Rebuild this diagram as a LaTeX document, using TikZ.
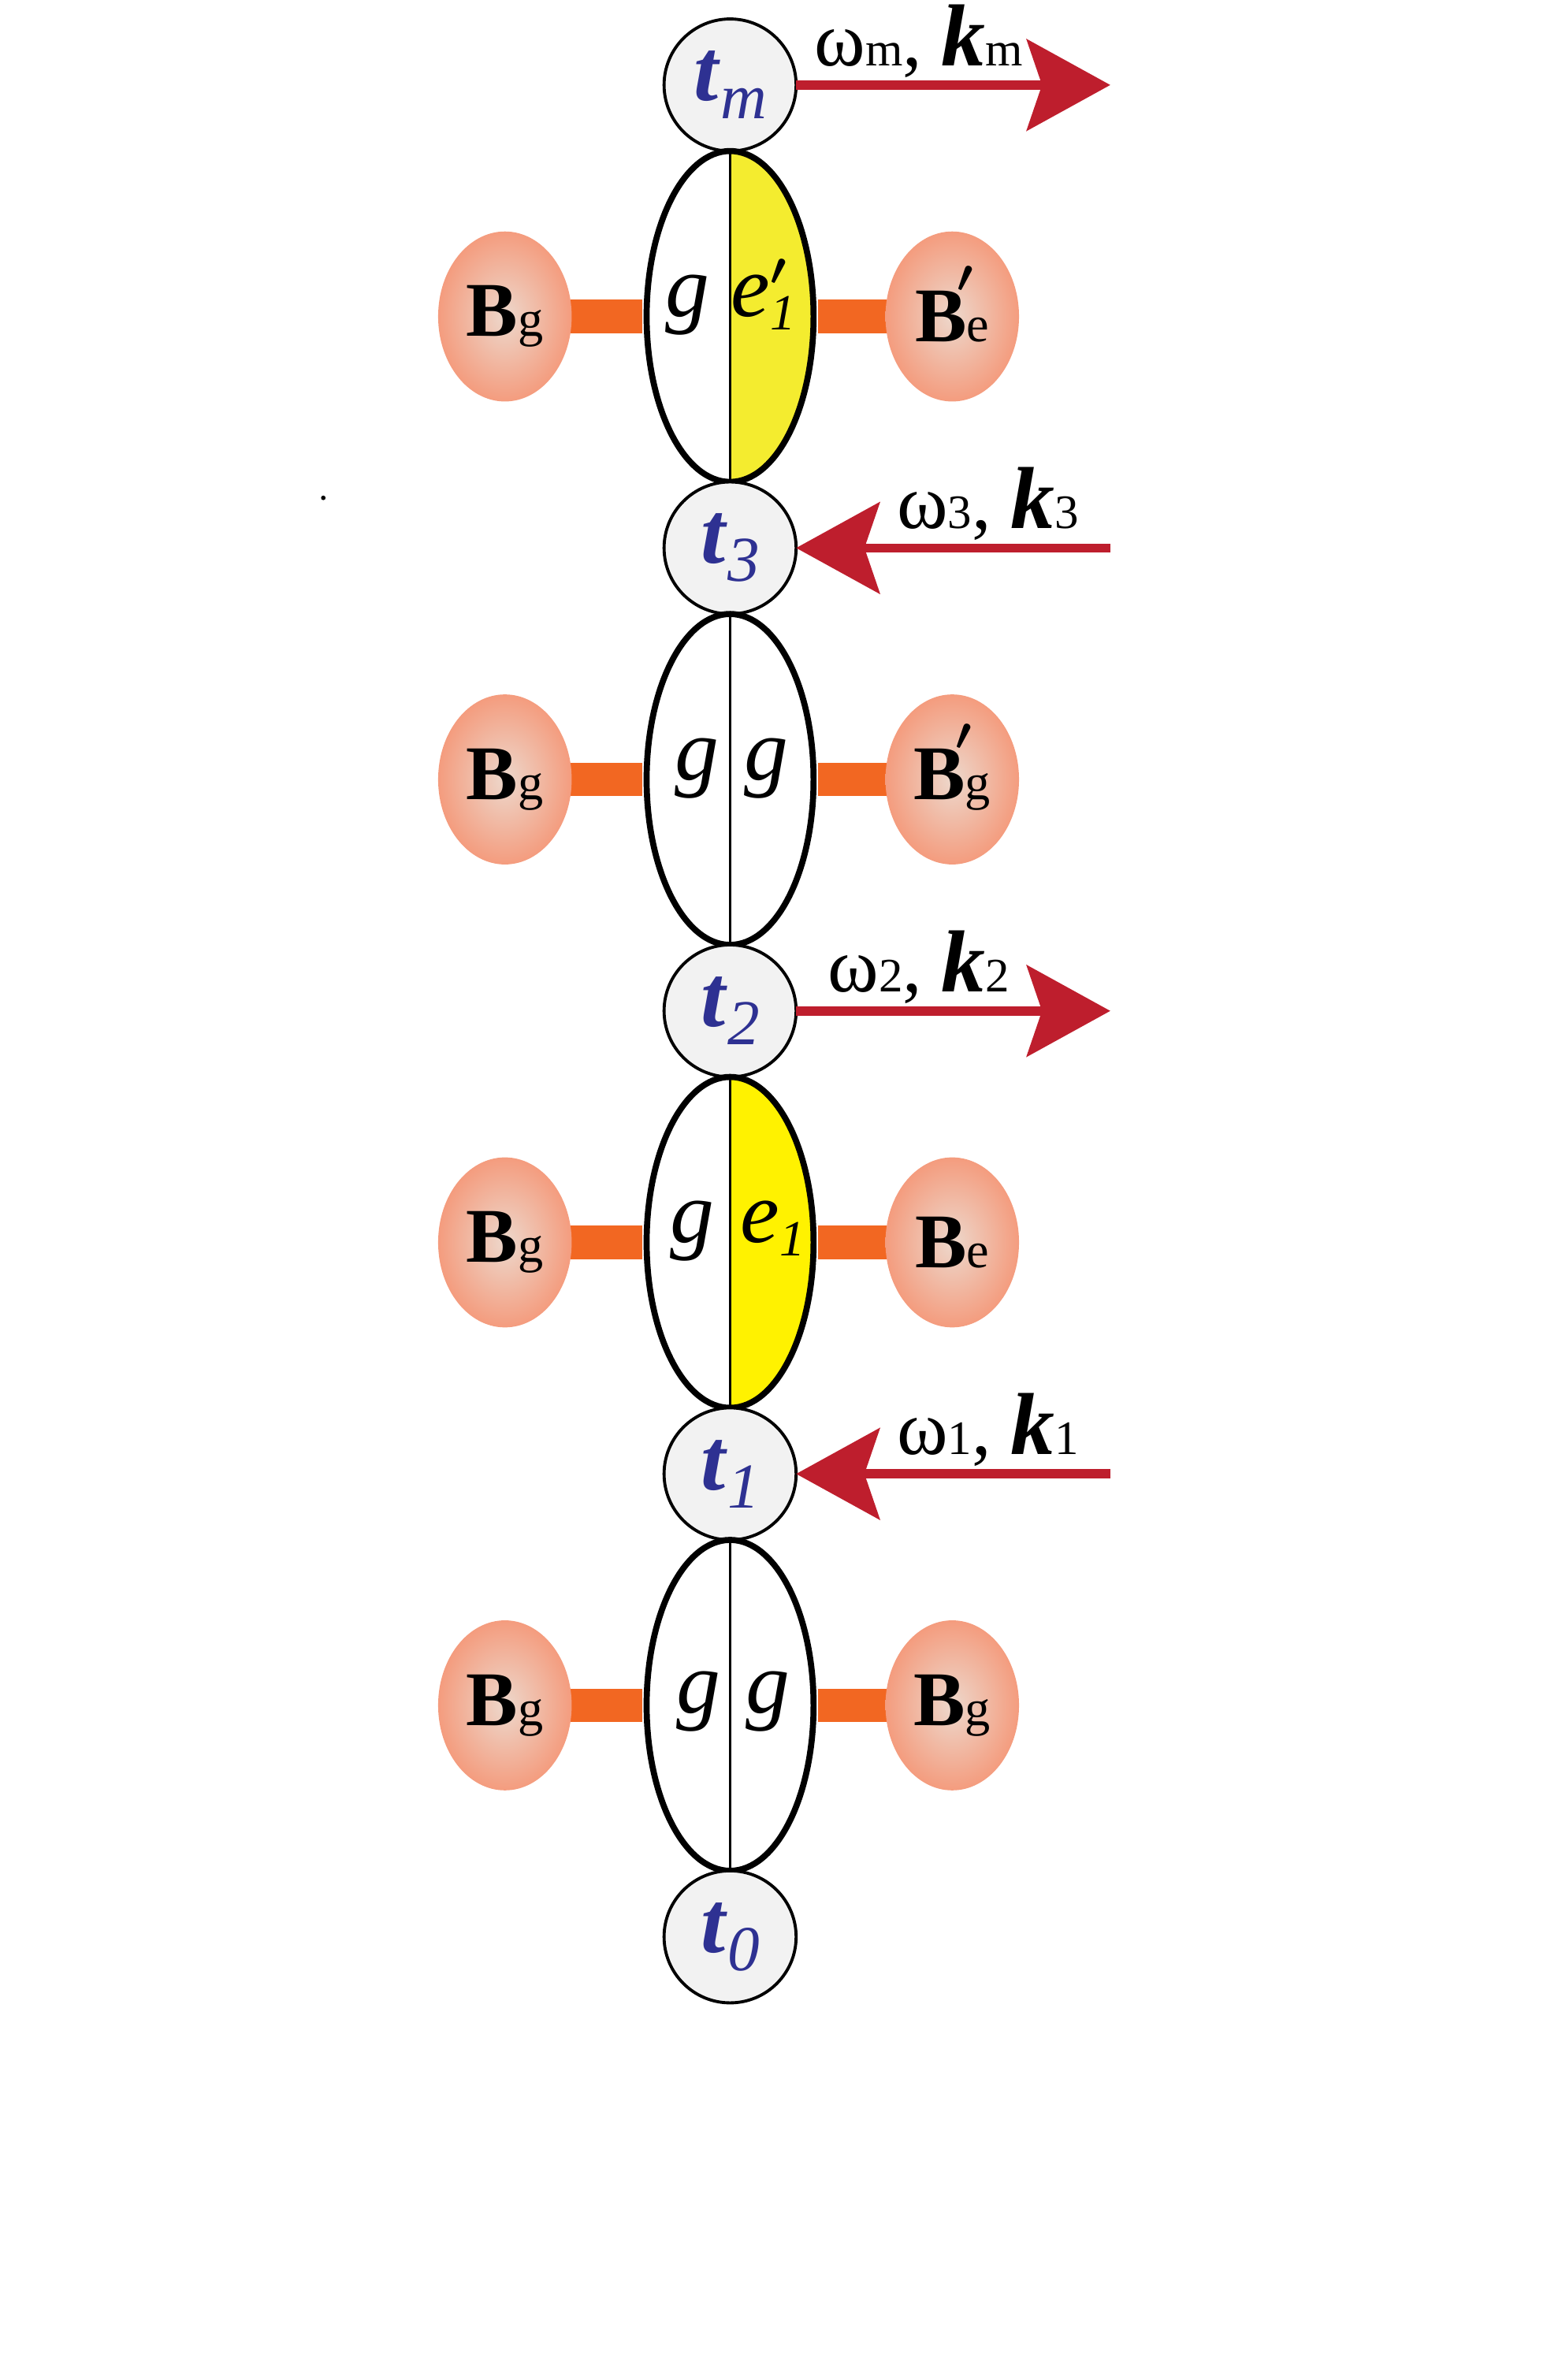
\documentclass[tikz,border=0pt]{standalone}
\usepackage{fontspec}
\setmainfont{Liberation Serif}
\usepackage{xcolor}
\usepackage{tikz}
\usetikzlibrary{positioning, arrows.meta, shapes.geometric, backgrounds}
\definecolor{tgray}{HTML}{F2F2F2}
\definecolor{tblue}{HTML}{2E3192}
\definecolor{lemon}{HTML}{F4EC2F}
\definecolor{brightyellow}{HTML}{FFF200}
\definecolor{salmon}{HTML}{F49C7E}
\definecolor{blush}{HTML}{EDD8CC}
\definecolor{barorange}{HTML}{F26722}
\definecolor{pulsered}{HTML}{BE1E2D}

\newcommand{\tlabel}[1]{\textbf{\textit{t}}\raisebox{-2.4mm}{\fontsize{24}{24}\selectfont\textit{#1}}}
\newcommand{\primeup}[1]{\raisebox{#1}[0pt][0pt]{\fontsize{16}{16}\selectfont\boldmath$\prime$}}
\newcommand{\esub}[1]{\raisebox{-1.8mm}{\fontsize{19}{20}\selectfont\itshape #1}}
\newcommand{\Blabel}[1]{\textbf{B}{\fontsize{19}{20}\selectfont #1}}
\newcommand{\Bplabel}[1]{\textbf{B}\rlap{\kern-1.3mm\primeup{6.5mm}}{\fontsize{19}{20}\selectfont #1}}
\newcommand{\wklabel}[1]{{\fontsize{29}{30}\selectfont ω}{\fontsize{18}{18}\selectfont #1}%
  {\fontsize{29}{30}\selectfont , }{\fontsize{33}{34}\selectfont\bfseries\itshape k}%
  {\fontsize{18}{18}\selectfont #1}}

\tikzset{
  tnode/.style={circle, draw, line width=0.4mm, fill=tgray, minimum size=17.4mm,
    inner sep=0pt, outer sep=0pt, text=tblue, font=\fontsize{33}{36}\selectfont},
  pair/.style={ellipse, draw, line width=0.8mm, fill=white, minimum width=22mm,
    minimum height=43.6mm, inner sep=0pt, outer sep=0pt},
  half/.style={path picture={\fill[#1] (path picture bounding box.north)
    rectangle (path picture bounding box.south east);}},
  divider/.style={line width=0.25mm},
  glab/.style={anchor=base, inner sep=0pt, font=\fontsize{33}{36}\selectfont\itshape},
  blob/.style={ellipse, minimum width=17.6mm, minimum height=22.4mm, inner sep=0pt,
    inner color=blush, outer color=salmon, font=\fontsize{29}{30}\selectfont},
  bond/.style={barorange, line width=4.4mm},
  wave/.style={pulsered, line width=1.2mm, -{Stealth[length=11mm, width=12mm, inset=2mm]}},
  wlab/.style={above=0.4mm, inner sep=0pt, text=black, pos=0.39},
}

\begin{document}
\begin{tikzpicture}[x=0.2mm, y=-0.2mm]
  \useasboundingbox (0,0) rectangle (1019,1568);

  % time points and states, top to bottom
  \node[tnode] (tm) at (481,56) {\tlabel{m}};
  \node[pair, half=lemon, below=0pt of tm] (st4) {};
  \node[tnode, below=0pt of st4] (t3) {\tlabel{3}};
  \node[pair, below=0pt of t3] (st3) {};
  \node[tnode, below=0pt of st3] (t2) {\tlabel{2}};
  \node[pair, half=brightyellow, below=0pt of t2] (st2) {};
  \node[tnode, below=0pt of st2] (t1) {\tlabel{1}};
  \node[pair, below=0pt of t1] (st1) {};
  \node[tnode, below=0pt of st1] (t0) {\tlabel{0}};

  \foreach \s in {st4, st3, st2, st1}
    \draw[divider] (\s.north) -- (\s.south);

  \node[glab] at ([xshift=-5.6mm]st4.center) {g};
  \node[glab] at ([xshift=4.4mm]st4.center) {e\rlap{\primeup{4.2mm}}\esub{1}};
  \node[glab] at ([xshift=-4.4mm]st3.center) {g};
  \node[glab] at ([xshift=4.8mm]st3.center) {g};
  \node[glab] at ([xshift=-5mm]st2.center) {g};
  \node[glab] at ([xshift=5.6mm]st2.center) {e\esub{1}};
  \node[glab] at ([xshift=-4.2mm,yshift=-1mm]st1.center) {g};
  \node[glab] at ([xshift=5mm,yshift=-1mm]st1.center) {g};

  % baths
  \node[blob, left=9.8mm of st4] (bl4) {\Blabel{g}};
  \node[blob, right=9.4mm of st4] (br4) {\Bplabel{e}};
  \node[blob, left=9.8mm of st3] (bl3) {\Blabel{g}};
  \node[blob, right=9.4mm of st3] (br3) {\Bplabel{g}};
  \node[blob, left=9.8mm of st2] (bl2) {\Blabel{g}};
  \node[blob, right=9.4mm of st2] (br2) {\Blabel{e}};
  \node[blob, left=9.8mm of st1] (bl1) {\Blabel{g}};
  \node[blob, right=9.4mm of st1] (br1) {\Blabel{g}};

  \begin{scope}[on background layer]
    \foreach \s in {4,3,2,1} {
      \draw[bond] (bl\s.center) -- ([xshift=-0.6mm]st\s.west);
      \draw[bond] ([xshift=0.6mm]st\s.east) -- (br\s.center);
    }
  \end{scope}

  % pulses
  \coordinate[right=41.4mm of tm.east] (wm);
  \coordinate[right=41.4mm of t3.east] (w3);
  \coordinate[right=41.4mm of t2.east] (w2);
  \coordinate[right=41.4mm of t1.east] (w1);
  \draw[wave] (tm.east) -- (wm) node[wlab] {\wklabel{m}};
  \draw[wave] (w3) -- (t3.east) node[wlab] {\wklabel{3}};
  \draw[wave] (t2.east) -- (w2) node[wlab] {\wklabel{2}};
  \draw[wave] (w1) -- (t1.east) node[wlab] {\wklabel{1}};

  \fill (213,328) circle[radius=0.3mm];
\end{tikzpicture}
\end{document}
